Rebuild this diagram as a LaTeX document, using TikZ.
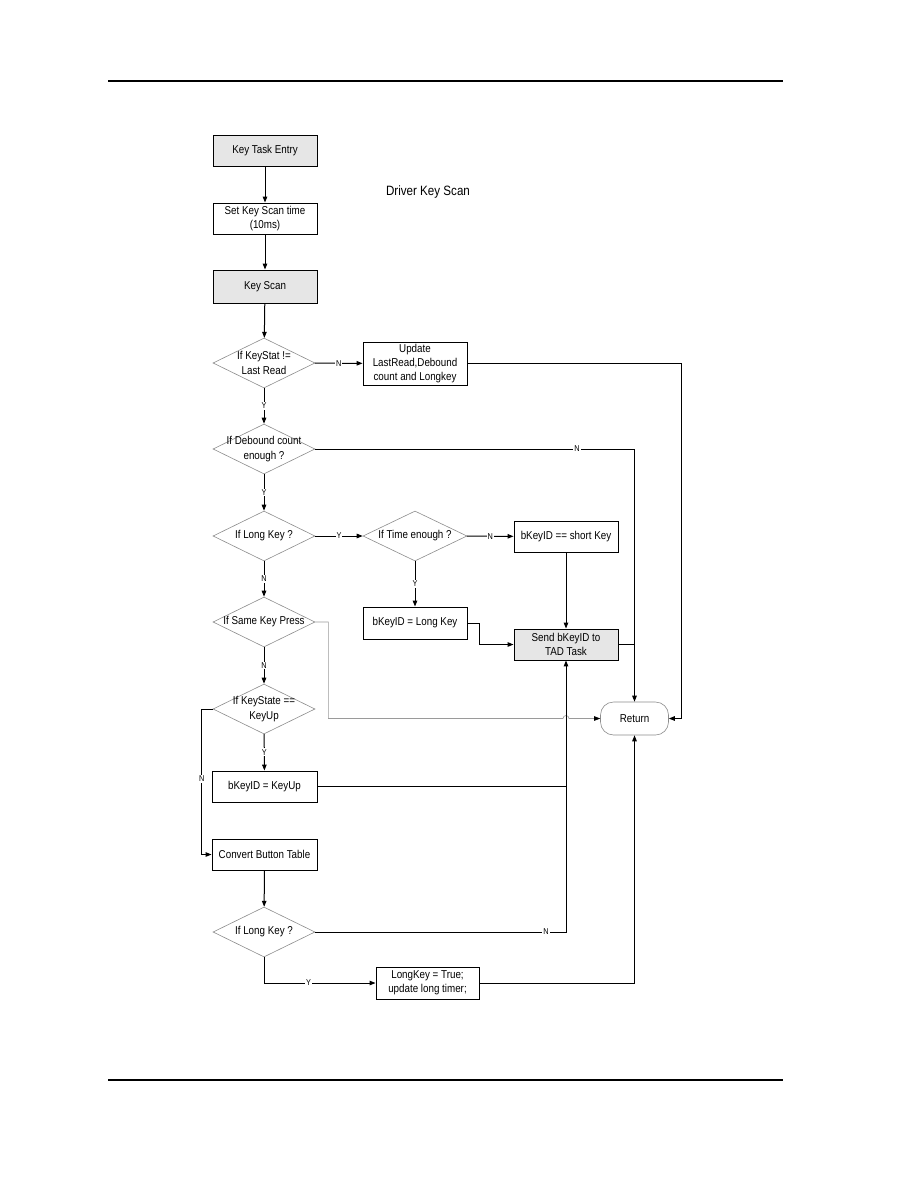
\documentclass[tikz,border=0pt]{standalone}
\usepackage{fontspec}
\setmainfont{Liberation Sans}[FakeStretch=0.86]
\usepackage{tikz}
\usetikzlibrary{shapes.geometric, arrows.meta}
\definecolor{BoxGry} {HTML}{E6E6E6}
\definecolor{EdgeGry}{HTML}{8C8C8C}
\definecolor{HopGry} {HTML}{9A9A9A}

\begin{document}
\begin{tikzpicture}[x=1pt, y=-1pt,
    proc/.style={draw, line width=0.9pt, minimum width=104pt, minimum height=31pt,
      inner sep=1pt, align=center, font=\fontsize{11.4}{14.4}\selectfont},
    task/.style={proc, fill=BoxGry},
    decide/.style={diamond, draw=EdgeGry, line width=0.6pt, minimum width=102pt,
      minimum height=50pt, inner sep=0pt},
    dtext/.style={align=center, font=\fontsize{11.4}{14.4}\selectfont},
    flow/.style={line width=1pt, -{Triangle[length=6pt, width=4.5pt]}},
    link/.style={line width=1pt},
    yn/.style={fill=white, inner sep=1pt, font=\fontsize{8.5}{9}\selectfont}]
      \useasboundingbox (0,0) rectangle (918,1188);

      % ── page rules ───────────────────────────────────────────────────────────
      \draw[line width=2pt] (108,81) -- (783,81);
      \draw[line width=2pt] (108,1080) -- (783,1080);

      \node[font=\fontsize{13.5}{15}\selectfont] (title) at (428,192) {Driver Key Scan};

      % ── main column ──────────────────────────────────────────────────────────
      \node[task] (entry)    at (265,151)   {Key Task Entry};
      \node[proc] (scantime) at (265,218.5) {Set Key Scan time\\(10ms)};
      \node[task, minimum height=33pt] (keyscan) at (265,286.5) {Key Scan};
      \node[decide, label={[dtext]center:{If KeyStat !=\\Last Read}}] (ifstat) at (264,363) {};
      \node[decide, label={[dtext]center:{If Debound count\\enough ?}}] (ifdeb) at (264,449) {};
      \node[decide, label={[dtext]center:{If Long Key ?}}] (iflong) at (264,536) {};
      \node[decide, label={[dtext]center:{If Same Key Press}}] (ifsame) at (264,622) {};
      \node[decide, label={[dtext]center:{If KeyState ==\\KeyUp}}] (ifup) at (264,709) {};
      \node[proc, minimum width=105pt] (keyup)   at (264.5,786.5) {bKeyID = KeyUp};
      \node[proc, minimum width=105pt] (convert) at (264.5,854.5) {Convert Button Table};
      \node[decide, label={[dtext]center:{If Long Key ?}}] (iflong2) at (264,932) {};

      % ── right side ───────────────────────────────────────────────────────────
      \node[proc, minimum height=43pt] (update) at (415,363.5) {Update\\LastRead,Debound\\count and Longkey};
      \node[decide, minimum width=104pt, label={[dtext]center:{If Time enough ?}}] (iftime) at (415,536) {};
      \node[proc] (shortkey) at (566,536.5) {bKeyID == short Key};
      \node[proc, minimum height=32pt] (longkey) at (415,623) {bKeyID = Long Key};
      \node[task] (send) at (566,644.5) {Send bKeyID to\\TAD Task};
      \node[proc, minimum width=103pt, minimum height=32pt] (settrue) at (427.5,983) {LongKey = True;\\update long timer;};
      \node[draw=EdgeGry, line width=0.6pt, rounded corners=13pt, minimum width=68pt,
        minimum height=33pt, font=\fontsize{11.4}{14.4}\selectfont] (ret) at (634.5,718.5) {Return};

      % ── connectors ───────────────────────────────────────────────────────────
      \draw[flow] (entry) -- (scantime);
      \draw[flow] (scantime) -- (keyscan);
      \draw[flow] (keyscan) -- (ifstat);
      \draw[flow] (ifstat) -- node[yn] {N} (update);
      \draw[flow] (ifstat) -- node[yn] {Y} (ifdeb);
      \draw[flow] (ifdeb.east) -- node[yn, pos=0.82] {N} (ifdeb.east -| ret.north) -- (ret.north);
      \draw[flow] (ifdeb) -- node[yn] {Y} (iflong);
      \draw[flow] (iflong) -- node[yn] {Y} (iftime);
      \draw[flow] (iftime) -- node[yn] {N} (shortkey);
      \draw[flow] (iftime) -- node[yn] {Y} (longkey);
      \draw[flow] (shortkey) -- (send);
      \draw[flow] (longkey.east) -- ++(12,0) |- (send.west);
      \draw[link] (send.east) -- (send.east -| ret.north);
      \draw[flow] (update.east) -- ++(214,0) |- (ret.east);
      \draw[flow] (iflong) -- node[yn] {N} (ifsame);
      % same key press: thin grey line with a hop over the vertical
      \coordinate (hop) at (ret.west -| send.south);
      \draw[line width=0.6pt, draw=HopGry, -{Triangle[length=6pt, width=4.5pt, color=black, fill=black]}]
        (ifsame.east) -- ++(13,0) |- ([xshift=-3pt]hop)
        arc[start angle=180, end angle=0, radius=3pt] -- (ret.west);
      \draw[flow] (ifsame) -- node[yn] {N} (ifup);
      \draw[flow] (ifup) -- node[yn] {Y} (keyup);
      \draw[flow] (ifup.west) -- ++(-11,0) |- node[yn, pos=0.24] {N} (convert.west);
      \draw[link] (keyup.east) -- (keyup.east -| send.south);
      \draw[flow] (convert) -- (iflong2);
      \draw[flow] (iflong2.east) -| node[yn, pos=0.46] {N} (send.south);
      \draw[flow] (iflong2.south) |- node[yn, pos=0.7] {Y} (settrue.west);
      \draw[flow] (settrue.east) -| (ret.south);
    \end{tikzpicture}
\end{document}
